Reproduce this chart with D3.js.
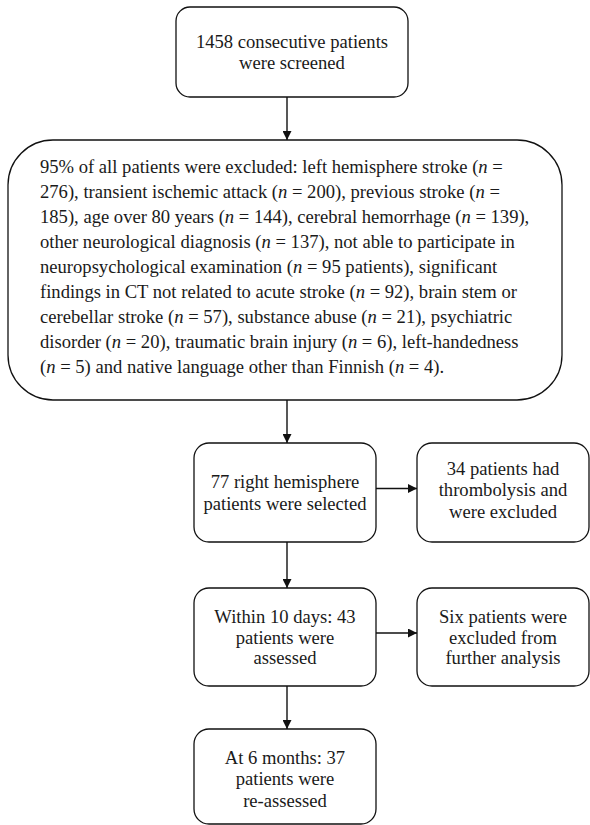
<!DOCTYPE html>
<html>
<head>
<meta charset="utf-8">
<script src="https://cdn.jsdelivr.net/npm/d3@7"></script>
<style>
  html, body { margin: 0; padding: 0; background: #fff; }
  svg { display: block; }
</style>
</head>
<body>
<svg id="chart" width="590" height="825"></svg>
<script>
// ---- data ----
const nodeIds = ["screened", "excluded95", "selected", "thrombolysis", "assessed", "furtherExcl", "reassessed"];
const nodeLines = [
  ["1458 consecutive patients", "were screened"],
  [
    "95% of all patients were excluded: left hemisphere stroke (n =",
    "276), transient ischemic attack (n = 200), previous stroke (n =",
    "185), age over 80 years (n = 144), cerebral hemorrhage (n = 139),",
    "other neurological diagnosis (n = 137), not able to participate in",
    "neuropsychological examination (n = 95 patients), significant",
    "findings in CT not related to acute stroke (n = 92), brain stem or",
    "cerebellar stroke (n = 57), substance abuse (n = 21), psychiatric",
    "disorder (n = 20), traumatic brain injury (n = 6), left-handedness",
    "(n = 5) and native language other than Finnish (n = 4)."
  ],
  ["77 right hemisphere", "patients were selected"],
  ["34 patients had", "thrombolysis and", "were excluded"],
  ["Within 10 days: 43", "patients were", "assessed"],
  ["Six patients were", "excluded from", "further analysis"],
  ["At 6 months: 37", "patients were", "re-assessed"]
];
const linkSource = ["screened", "excluded95", "selected", "selected", "assessed", "assessed"];
const linkTarget = ["excluded95", "selected", "thrombolysis", "assessed", "furtherExcl", "reassessed"];

// ---- layout (pixel geometry, kept apart from data) ----
const layout = {
  screened:     {x: 176, y: 7,   w: 232, h: 90,  r: 14, align: "middle", lh: 21, cy: 52.5},
  excluded95:   {x: 8,   y: 140, w: 554, h: 260, r: 45, align: "start",  lh: 25, cy: 267, tx: 40},
  selected:     {x: 194, y: 443, w: 182, h: 99,  r: 15, align: "middle", lh: 22, cy: 492.5},
  thrombolysis: {x: 417, y: 443, w: 172, h: 99,  r: 15, align: "middle", lh: 21.5, cy: 490},
  assessed:     {x: 194, y: 588, w: 182, h: 98,  r: 15, align: "middle", lh: 20.5, cy: 637.5},
  furtherExcl:  {x: 417, y: 588, w: 172, h: 98,  r: 15, align: "middle", lh: 20.5, cy: 637.5},
  reassessed:   {x: 194, y: 729, w: 182, h: 95,  r: 15, align: "middle", lh: 21.5, cy: 779}
};
const trunkX = 287;
const FONT = "'Liberation Serif', 'Times New Roman', Times, serif";
const FONT_SIZE = 18.6;

const svg = d3.select("#chart");
const defs = svg.append("defs");
defs.append("marker")
  .attr("id", "arrow")
  .attr("viewBox", "0 0 10 10")
  .attr("refX", 10).attr("refY", 5)
  .attr("markerWidth", 10).attr("markerHeight", 9)
  .attr("markerUnits", "userSpaceOnUse")
  .attr("orient", "auto")
  .append("path").attr("d", "M0,0 L10,5 L0,10 Z").attr("fill", "#111");

const nodes = nodeIds.map((id, i) => ({id, lines: nodeLines[i], ...layout[id]}));
const byId = new Map(nodes.map(n => [n.id, n]));

// links
const links = linkSource.map((s, i) => ({s: byId.get(linkSource[i]), t: byId.get(linkTarget[i])}));
svg.append("g").selectAll("path").data(links).join("path")
  .attr("d", d => {
    if (d.t.x > d.s.x + d.s.w - 5) {
      const y = d.s.y + d.s.h / 2 - 4;
      return d3.line()([[d.s.x + d.s.w, y], [d.t.x, y]]);
    }
    return d3.line()([[trunkX, d.s.y + d.s.h], [trunkX, d.t.y]]);
  })
  .attr("stroke", "#111").attr("stroke-width", 1.4).attr("fill", "none")
  .attr("marker-end", "url(#arrow)");

// boxes
const g = svg.append("g").selectAll("g").data(nodes).join("g");
g.append("rect")
  .attr("x", d => d.x).attr("y", d => d.y)
  .attr("width", d => d.w).attr("height", d => d.h)
  .attr("rx", d => d.r).attr("ry", d => d.r)
  .attr("fill", "#fff").attr("stroke", "#111").attr("stroke-width", 1.3);

g.each(function(d) {
  const n = d.lines.length;
  const first = d.cy - (n - 1) * d.lh / 2;
  const t = d3.select(this).append("text")
    .attr("font-family", FONT)
    .attr("fill", "#1a1a1a")
    .attr("font-size", FONT_SIZE)
    .attr("text-anchor", d.align);
  d.lines.forEach((line, i) => {
    const x = d.align === "middle" ? d.x + d.w / 2 : d.tx;
    const y = first + i * d.lh + 6;
    const parts = line.split(/(\bn(?= =))/);
    parts.forEach((p, j) => {
      if (p === "") return;
      const ts = t.append("tspan").text(p);
      if (p === "n") ts.attr("font-style", "italic");
      if (j === 0 || (j === 1 && parts[0] === "")) ts.attr("x", x).attr("y", y);
    });
  });
});
</script>
</body>
</html>
